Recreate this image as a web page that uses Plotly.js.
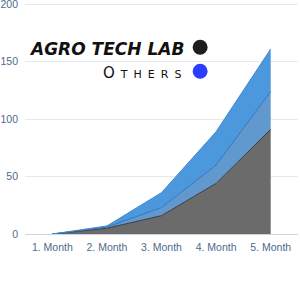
<!DOCTYPE html>
<html>
<head>
<meta charset="utf-8">
<script src="https://cdn.plot.ly/plotly-3.0.1.min.js"></script>
<style>html,body{margin:0;padding:0;background:#fff;}#chart{width:300px;height:300px;}</style>
</head>
<body>
<div id="chart"></div>
<script>
const months = ["1. Month", "2. Month", "3. Month", "4. Month", "5. Month"];
const agroTechLab = [0, 5, 16, 44, 91];
const othersMid = [0, 6, 23, 60, 124];
const othersTop = [0, 7, 36, 89, 161];
const yTicks = [0, 50, 100, 150, 200];
const legendNames = ["AGRO TECH LAB", "Others"];

const traces = [
  {x: months, y: agroTechLab, type: "scatter", mode: "lines", fill: "tozeroy",
   fillcolor: "#6b6b6b", line: {color: "#3a3a3a", width: 1}, hoverinfo: "none"},
  {x: months, y: othersMid, type: "scatter", mode: "lines", fill: "tonexty",
   fillcolor: "#6199cf", line: {color: "#2f74bd", width: 1}, hoverinfo: "none"},
  {x: months, y: othersTop, type: "scatter", mode: "lines", fill: "tonexty",
   fillcolor: "#4c98dd", line: {color: "#3d8ad4", width: 1}, hoverinfo: "none"}
];

const layout = {
  width: 300, height: 300,
  margin: {l: 25, r: 2, t: 3, b: 66},
  paper_bgcolor: "#fff", plot_bgcolor: "#fff",
  showlegend: false,
  font: {family: "Liberation Sans, Arial, sans-serif", size: 10.5, color: "#4d6b8c"},
  xaxis: {type: "category", range: [-0.5, 4.5], tickvals: months, ticktext: months, showgrid: false,
          showline: true, linecolor: "#ccd6e2", linewidth: 1, zeroline: false,
          ticks: "", tickfont: {size: 10.5, color: "#4d6b8c"}, ticklabelstandoff: 3, fixedrange: true},
  yaxis: {range: [0, 201], tickvals: yTicks, ticktext: yTicks.map(String),
          gridcolor: "#e6eaee", zeroline: false, showline: false, ticks: "",
          ticklabeloverflow: "allow", ticklabelstandoff: 6,
          tickfont: {size: 10.5, color: "#4d6b8c"}, fixedrange: true},
  annotations: [
    {xref: "paper", yref: "paper", x: 0.007, y: 0.80, xanchor: "left", yanchor: "middle",
     text: "<b><i>" + legendNames[0] + "</i></b>", showarrow: false,
     font: {family: "DejaVu Sans, sans-serif", size: 17, color: "#111"}},
    {xref: "paper", yref: "paper", x: 0.441, y: 0.695, xanchor: "center", yanchor: "middle",
     text: legendNames[1], showarrow: false,
     font: {family: "DejaVu Sans, sans-serif", size: 15, color: "#111", variant: "small-caps"}}
  ],
  shapes: [
    {type: "circle", xref: "paper", yref: "paper", x0: 0.614, x1: 0.669, y0: 0.776, y1: 0.841,
     fillcolor: "#1e1e1e", line: {width: 0}},
    {type: "circle", xref: "paper", yref: "paper", x0: 0.614, x1: 0.669, y0: 0.672, y1: 0.737,
     fillcolor: "#2a3cff", line: {width: 0}}
  ]
};

Plotly.newPlot("chart", traces, layout, {displayModeBar: false, staticPlot: true}).then(function (gd) {
  const texts = gd.querySelectorAll(".annotation-text");
  if (texts[1]) texts[1].setAttribute("letter-spacing", "6px");
});
</script>
</body>
</html>
